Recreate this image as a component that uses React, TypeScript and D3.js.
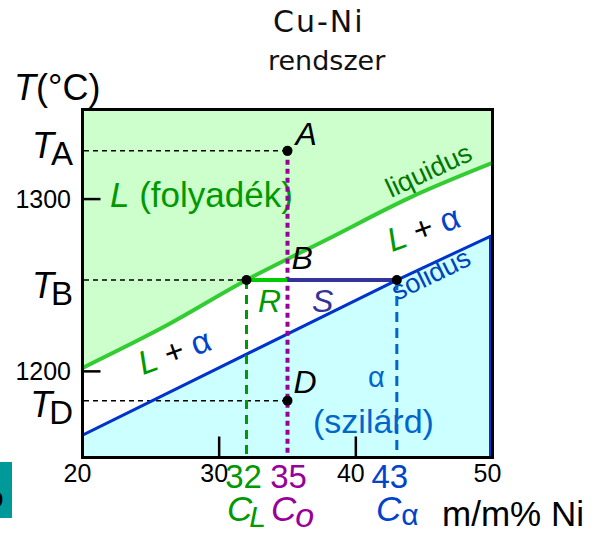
import React from "react";
import * as d3 from "d3";

// Cu-Ni binary phase diagram (section 20–50 m/m% Ni)
const compDomain = [20, 50];
const tempDomain = [1150, 1352];
const compTicks = [20, 30, 40, 50];
const tempTicks = [1200, 1300];

const liquidusComp = [20, 26, 32, 38, 44, 50];
const liquidusTemp = [1202, 1226, 1253, 1277, 1301, 1321];
const solidusComp = [20, 43, 50];
const solidusTemp = [1163, 1253, 1279];

// alloy composition and the tie-line end compositions at T_B
const alloyComp = 35; // C_o
const liquidComp = 32; // C_L
const solidComp = 43; // C_alpha
const tempA = 1328;
const tempB = 1253;
const tempD = 1183;

const W = 598;
const H = 534;
const SANS = "'Liberation Sans', Arial, sans-serif";
const TITLE_FONT = "'DejaVu Sans', Verdana, sans-serif";

const GREEN_FILL = "#ccffcc";
const CYAN_FILL = "#ccffff";
const LIQ = "#33cc33";
const SOL = "#0033cc";
const TXT_GREEN = "#009900";
const PURPLE = "#990099";
const NAVY = "#333399";
const BLUE_TXT = "#0066cc";

export default function App() {
  const x = d3.scaleLinear().domain(compDomain).range([82.5, 492.5]);
  const y = d3.scaleLinear().domain(tempDomain).range([457.5, 109.5]);

  const liq = liquidusComp.map((c, i) => [c, liquidusTemp[i]] as [number, number]);
  const sol = solidusComp.map((c, i) => [c, solidusTemp[i]] as [number, number]);

  const liqLine = d3
    .line<[number, number]>()
    .x((d) => x(d[0]))
    .y((d) => y(d[1]))
    .curve(d3.curveMonotoneX);
  const solLine = d3
    .line<[number, number]>()
    .x((d) => x(d[0]))
    .y((d) => y(d[1]));
  const liqArea = d3
    .area<[number, number]>()
    .x((d) => x(d[0]))
    .y0(y(tempDomain[1]))
    .y1((d) => y(d[1]))
    .curve(d3.curveMonotoneX);
  const solArea = d3
    .area<[number, number]>()
    .x((d) => x(d[0]))
    .y0(y(tempDomain[0]))
    .y1((d) => y(d[1]));

  const x0 = x(compDomain[0]);
  const x1 = x(compDomain[1]);
  const yTop = y(tempDomain[1]);
  const yBot = y(tempDomain[0]);

  const xA = x(alloyComp);
  const xL = x(liquidComp);
  const xS = x(solidComp);
  const yA = y(tempA);
  const yB = y(tempB);
  const yD = y(tempD);

  return (
    <svg
      width={W}
      height={H}
      style={{ position: "absolute", left: 0, top: 0, background: "#fff" }}
      fontFamily={SANS}
    >
      <defs>
        <clipPath id="plot">
          <rect x={x0} y={yTop} width={x1 - x0} height={yBot - yTop} />
        </clipPath>
        <clipPath id="tab">
          <rect x={0} y={462} width={12} height={56} />
        </clipPath>
      </defs>

      {/* title */}
      <text
        x={273}
        y={32}
        fontFamily={TITLE_FONT}
        fontSize={30}
        fill="#111"
        letterSpacing={2}
      >
        Cu-Ni
      </text>
      <text x={268} y={70} fontFamily={TITLE_FONT} fontSize={27} fill="#111">
        rendszer
      </text>

      {/* phase fields */}
      <g clipPath="url(#plot)">
        <rect x={x0} y={yTop} width={x1 - x0} height={yBot - yTop} fill="#fff" />
        <path d={liqArea(liq) || ""} fill={GREEN_FILL} />
        <path d={solArea(sol) || ""} fill={CYAN_FILL} />
      </g>

      {/* temperature guides */}
      {[
        [tempA, xA],
        [tempB, xL],
        [tempD, xA],
      ].map(([t, xe], i) => (
        <line
          key={i}
          x1={x0 + 1.5}
          x2={xe}
          y1={y(t)}
          y2={y(t)}
          stroke="#000"
          strokeWidth={1.5}
          strokeDasharray="5,4"
        />
      ))}

      {/* liquidus and solidus */}
      <g clipPath="url(#plot)">
        <path d={liqLine(liq) || ""} fill="none" stroke={LIQ} strokeWidth={4} />
        <path d={solLine(sol) || ""} fill="none" stroke={SOL} strokeWidth={3} />
      </g>
      <line
        x1={x1 - 2}
        x2={x1 - 2}
        y1={y(solidusTemp[solidusTemp.length - 1])}
        y2={yBot}
        stroke={SOL}
        strokeWidth={3}
      />

      {/* region labels */}
      <text x={110} y={207} fontSize={35} fill={TXT_GREEN}>
        <tspan fontStyle="italic">L</tspan> (folyadék)
      </text>
      <text
        x={391}
        y={198}
        fontSize={27}
        fill="#007700"
        transform="rotate(-25 391 198)"
      >
        liquidus
      </text>
      <text x={392} y={252} fontSize={33} transform="rotate(-20 392 252)">
        <tspan fill={TXT_GREEN} fontStyle="italic">L</tspan>
        <tspan fill="#000"> + </tspan>
        <tspan fill="#0044cc">α</tspan>
      </text>
      <text x={143} y={375} fontSize={33} transform="rotate(-20 143 375)">
        <tspan fill={TXT_GREEN} fontStyle="italic">L</tspan>
        <tspan fill="#000"> + </tspan>
        <tspan fill="#0044cc">α</tspan>
      </text>
      <text
        x={397}
        y={301}
        fontSize={27}
        fill="#0044bb"
        transform="rotate(-26 397 301)"
      >
        solidus
      </text>
      <text x={368} y={387} fontSize={29} fill={BLUE_TXT}>
        α
      </text>
      <text x={313} y={433} fontSize={34} fill={BLUE_TXT}>
        (szilárd)
      </text>
      <text x={258} y={312} fontSize={32} fontStyle="italic" fill={TXT_GREEN}>
        R
      </text>
      <text x={312} y={312} fontSize={32} fontStyle="italic" fill={NAVY}>
        S
      </text>

      {/* composition verticals */}
      <line x1={xL} x2={xL} y1={yB} y2={yBot} stroke={TXT_GREEN} strokeWidth={3} strokeDasharray="9,6" />
      <line x1={xS} x2={xS} y1={yB} y2={yBot} stroke={BLUE_TXT} strokeWidth={3} strokeDasharray="10,6" />
      <line x1={xA} x2={xA} y1={yA} y2={yBot} stroke={PURPLE} strokeWidth={4} strokeDasharray="5,4" />

      {/* tie line */}
      <line x1={xL} x2={xA} y1={yB} y2={yB} stroke="#00cc00" strokeWidth={4} />
      <line x1={xA} x2={xS} y1={yB} y2={yB} stroke={NAVY} strokeWidth={4} />

      {/* state points */}
      {[
        [alloyComp, tempA],
        [liquidComp, tempB],
        [solidComp, tempB],
        [alloyComp, tempD],
      ].map(([c, t], i) => (
        <circle key={i} cx={x(c)} cy={y(t)} r={5} fill="#000" />
      ))}
      <text x={xA + 8} y={yA - 6} fontSize={32} fontStyle="italic">A</text>
      <text x={xA + 4} y={yB - 11} fontSize={32} fontStyle="italic">B</text>
      <text x={xA + 6} y={yD - 8} fontSize={32} fontStyle="italic">D</text>

      {/* frame */}
      <rect
        x={x0}
        y={yTop}
        width={x1 - x0}
        height={yBot - yTop}
        fill="none"
        stroke="#000"
        strokeWidth={3}
      />

      {/* axis ticks */}
      {tempTicks.map((t) => (
        <g key={t}>
          <line x1={x0} x2={x0 + 18} y1={y(t)} y2={y(t)} stroke="#000" strokeWidth={2.5} />
          <text x={71} y={y(t) + 9} fontSize={25} textAnchor="end">
            {t}
          </text>
        </g>
      ))}
      {compTicks.map((c) => (
        <g key={c}>
          {c > compDomain[0] && c < compDomain[1] && (
            <line x1={x(c)} x2={x(c)} y1={yBot} y2={yBot - 21} stroke="#000" strokeWidth={2.5} />
          )}
          <text x={x(c) - 5} y={482} fontSize={25} textAnchor="middle">
            {c}
          </text>
        </g>
      ))}

      {/* axis titles */}
      <text x={14} y={100} fontSize={36}>
        <tspan fontStyle="italic">T</tspan>(°C)
      </text>
      {[
        ["A", yA + 7],
        ["B", yB + 18],
        ["D", yD + 16],
      ].map(([s, yy]) => (
        <text key={s as string} x={73} y={yy as number} fontSize={36} textAnchor="end">
          <tspan fontStyle="italic">T</tspan>
          <tspan dx={-3} dy={7} fontSize={33}>
            {s}
          </tspan>
        </text>
      ))}

      {/* marked compositions */}
      <text x={xL - 3} y={488} fontSize={33} textAnchor="middle" fill={TXT_GREEN}>
        {liquidComp}
      </text>
      <text x={xA + 1} y={488} fontSize={33} textAnchor="middle" fill={PURPLE}>
        {alloyComp}
      </text>
      <text x={xS - 7} y={488} fontSize={33} textAnchor="middle" fill="#0044cc">
        {solidComp}
      </text>
      <text x={227} y={521} fontSize={35} fill={TXT_GREEN} fontStyle="italic">
        C<tspan dx={-3} dy={6} fontSize={30}>L</tspan>
      </text>
      <text x={271} y={521} fontSize={35} fill={PURPLE} fontStyle="italic">
        C<tspan dx={-1} dy={6} fontSize={34}>o</tspan>
      </text>
      <text x={376} y={521} fontSize={35} fill="#0044cc" fontStyle="italic">
        C<tspan dy={4} fontSize={30} fontStyle="normal">α</tspan>
      </text>
      <text x={442} y={526} fontSize={35}>
        m/m% Ni
      </text>

      {/* side tab */}
      <rect x={0} y={462} width={12} height={56} fill="#009999" />
      <text x={-12} y={507} fontSize={28} clipPath="url(#tab)">
        o
      </text>
    </svg>
  );
}
